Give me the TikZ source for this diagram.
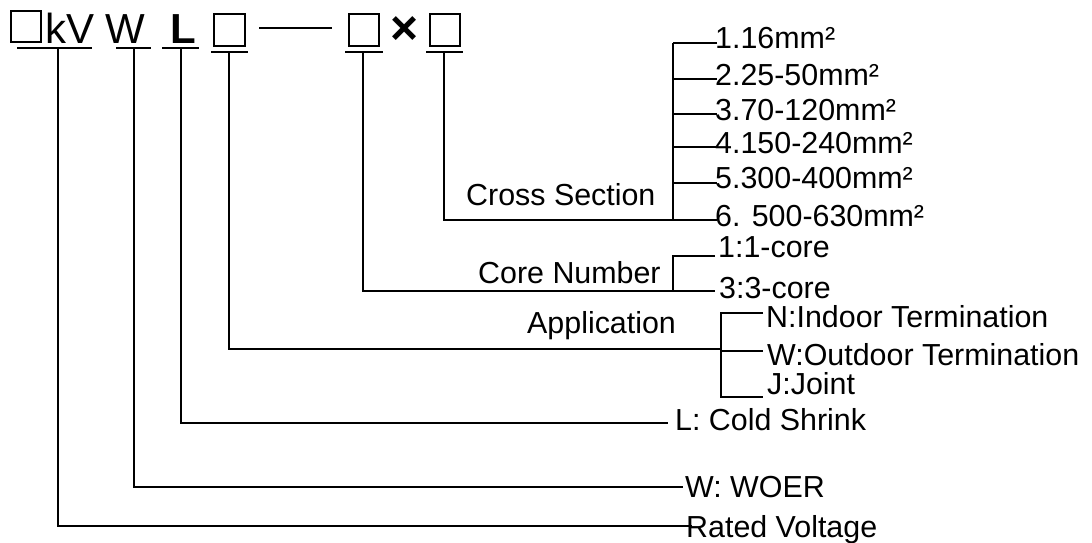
\documentclass[tikz,border=0pt]{standalone}
\usepackage{fontspec}
\setmainfont{Liberation Sans}
\begin{document}
\begin{tikzpicture}[x=1pt,y=-1pt,
  lbl/.style={font=\fontsize{30.4}{35}\selectfont, inner sep=0pt, anchor=base west},
  code/.style={font=\fontsize{42}{48}\selectfont, inner sep=0pt, anchor=base west},
  ph/.style={draw, line width=2pt, inner sep=0pt, minimum width=30pt, minimum height=32pt},
  ul/.style={line width=2.2pt},
  conn/.style={line width=1.6pt},
]
\useasboundingbox (0,0) rectangle (1092,542);
% code line
\node[ph, minimum height=31pt] (b1) at (26,26.5) {};
\node[code] (kv) at (45,43) {kV};
\node[code] (w) at (105,43) {W};
\node[code, font=\fontsize{42}{48}\selectfont\bfseries] (l) at (170,43) {L};
\node[ph, minimum width=31pt] (b2) at (229.5,30) {};
\coordinate (da) at (259,28);
\coordinate (db) at (332,28);
\draw[line width=1.8pt] (da) -- (db);
\node[ph] (b3) at (364,30) {};
\node[font=\fontsize{48}{52}\selectfont\bfseries, inner sep=0pt] (x) at (404.5,31) {×};
\node[ph] (b4) at (445,30) {};
% underlines
\coordinate (u1a) at (17,48);  \coordinate (u1b) at (92,48);
\coordinate (u2a) at (116,48); \coordinate (u2b) at (151,48);
\coordinate (u3a) at (162,48); \coordinate (u3b) at (199,48);
\coordinate (u4a) at (211,52); \coordinate (u4b) at (248,52);
\coordinate (u5a) at (345,52); \coordinate (u5b) at (383,52);
\coordinate (u6a) at (426,52); \coordinate (u6b) at (463,52);
\draw[ul] (u1a) -- (u1b) (u2a) -- (u2b) (u3a) -- (u3b)
          (u4a) -- (u4b) (u5a) -- (u5b) (u6a) -- (u6b);
% connector tops
\coordinate (t1) at (58,48);
\coordinate (t2) at (134,48);
\coordinate (t3) at (181,48);
\coordinate (t4) at (229,52);
\coordinate (t5) at (363,52);
\coordinate (t6) at (444,52);
% labels
\node[lbl] (cs1) at (715,48.5) {1.16mm²};
\node[lbl] (cs2) at (715,85) {2.25-50mm²};
\node[lbl] (cs3) at (715,120) {3.70-120mm²};
\node[lbl] (cs4) at (715,153) {4.150-240mm²};
\node[lbl] (cs5) at (715,188.5) {5.300-400mm²};
\node[lbl] (cs6) at (715,226) {6. 500-630mm²};
\node[lbl] (cs) at (466,205) {Cross Section};
\node[lbl] (cn) at (478,283) {Core Number};
\node[lbl] (cn1) at (718,257) {1:1-core};
\node[lbl] (cn3) at (719,298) {3:3-core};
\node[lbl] (ap) at (527,333) {Application};
\node[lbl] (apn) at (766,327) {N:Indoor Termination};
\node[lbl] (apw) at (767,365) {W:Outdoor Termination};
\node[lbl] (apj) at (767,394) {J:Joint};
\node[lbl] (cold) at (675,430) {L: Cold Shrink};
\node[lbl] (woer) at (685,497) {W: WOER};
\node[lbl] (rv) at (686,537) {Rated Voltage};
% cross section bracket
\coordinate (csv) at (673,43);
\coordinate (csb) at (673,220);
\foreach \i/\y in {1/43,2/79,3/114,4/147,5/183}{
  \coordinate (cst\i) at (717,\y);
}
\draw[conn] (t6) |- (csb) -- (717,220);
\draw[conn] (csv) -- (csb);
\foreach \i in {1,...,5}{ \draw[conn] (cst\i) -- (cst\i -| csv); }
% core number bracket
\coordinate (cnt) at (673,256);
\coordinate (cnb) at (673,291);
\coordinate (cne1) at (715,256);
\coordinate (cne3) at (715,291);
\draw[conn] (t5) |- (cnb) -- (cne3);
\draw[conn] (cne1) -- (cnt) -- (cnb);
% application bracket
\coordinate (apt) at (721,313);
\coordinate (apm) at (721,349);
\coordinate (apb) at (721,397);
\coordinate (ape1) at (763,313);
\coordinate (ape2) at (763,351);
\coordinate (ape3) at (763,397);
\draw[conn] (t4) |- (apm);
\draw[conn] (ape1) -- (apt) -- (apb) -- (ape3);
\draw[conn] (721,351) -- (ape2);
% other connectors
\coordinate (e3) at (668,423);
\coordinate (e2) at (683,487);
\coordinate (e1) at (692,526);
\draw[conn] (t3) |- (e3);
\draw[conn] (t2) |- (e2);
\draw[conn] (t1) |- (e1);
\end{tikzpicture}
\end{document}
